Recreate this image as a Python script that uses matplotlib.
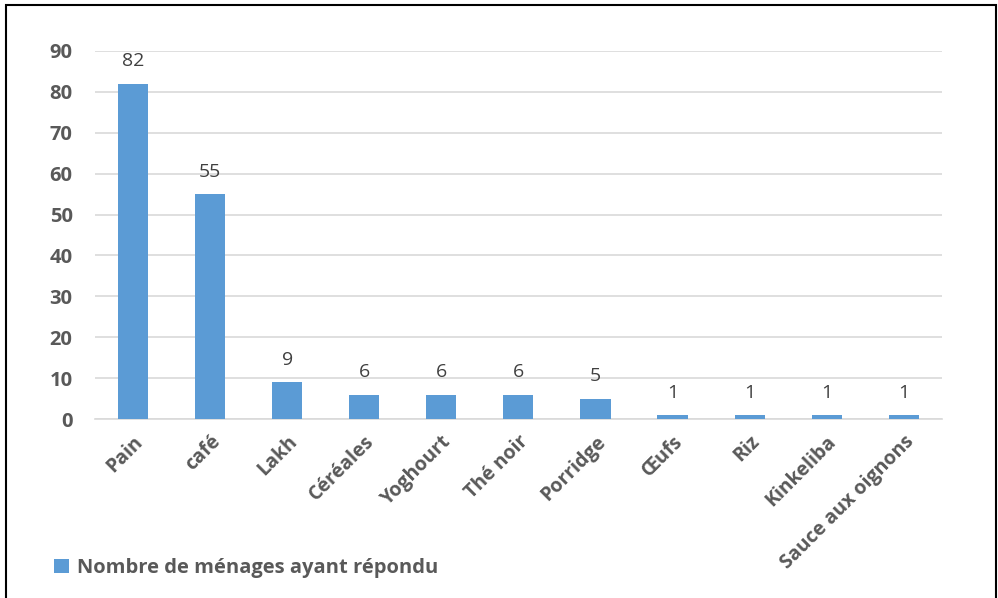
"""Bar chart: petit-déjeuner des ménages."""

import matplotlib.pyplot as plt
from matplotlib.patches import Rectangle

# Data
categories = ["Pain", "café", "Lakh", "Céréales", "Yoghourt", "Thé noir",
              "Porridge", "Œufs", "Riz", "Kinkeliba", "Sauce aux oignons"]
menages = [82, 55, 9, 6, 6, 6, 5, 1, 1, 1, 1]
yticks = list(range(0, 100, 10))

BAR_COLOR = "#5B9BD5"
TEXT_COLOR = "#595959"
plt.rcParams["font.family"] = ["Open Sans", "DejaVu Sans"]

fig = plt.figure(figsize=(9.98, 5.98), dpi=100)
ax = fig.add_axes([0.095, 0.299, 0.849, 0.616])

x = range(len(categories))
bars = ax.bar(x, menages, width=0.39, color=BAR_COLOR,
              label="Nombre de ménages ayant répondu", zorder=3)

# Data labels above bars
for xi, v in zip(x, menages):
    ax.text(xi, v + 3.3, str(v), ha="center", va="bottom",
            fontsize=14, color="#404040")

ax.set_xlim(-0.5, len(categories) - 0.5)
ax.set_ylim(0, 90)
ax.set_yticks(yticks)
ax.set_yticklabels([str(t) for t in yticks], fontsize=14.5,
                   fontweight="bold", color=TEXT_COLOR)
ax.set_xticks(list(x))
ax.set_xticklabels(categories, rotation=45, ha="right",
                   rotation_mode="anchor", fontsize=14,
                   fontweight="bold", color=TEXT_COLOR)
ax.tick_params(axis="y", length=0, pad=16)
ax.tick_params(axis="x", length=0, pad=9)
ax.grid(axis="y", color="#D9D9D9", linewidth=1.2, zorder=0)
for side in ["top", "right", "left"]:
    ax.spines[side].set_visible(False)
ax.spines["bottom"].set_color("#D9D9D9")
ax.spines["bottom"].set_linewidth(1.2)

# Legend at the bottom left
leg = fig.legend(handles=[bars], labels=["Nombre de ménages ayant répondu"],
                 loc="center left", bbox_to_anchor=(0.036, 0.05),
                 frameon=False, handlelength=0.75, handleheight=0.75,
                 handletextpad=0.4, prop={"size": 14.5, "weight": "bold"})
for t in leg.get_texts():
    t.set_color(TEXT_COLOR)

# Frame around the chart
fig.patches.append(Rectangle((0.006, -0.01), 0.992, 1.002,
                             transform=fig.transFigure, fill=False,
                             edgecolor="black", linewidth=1.5))

fig.savefig("out.png", dpi=100)
